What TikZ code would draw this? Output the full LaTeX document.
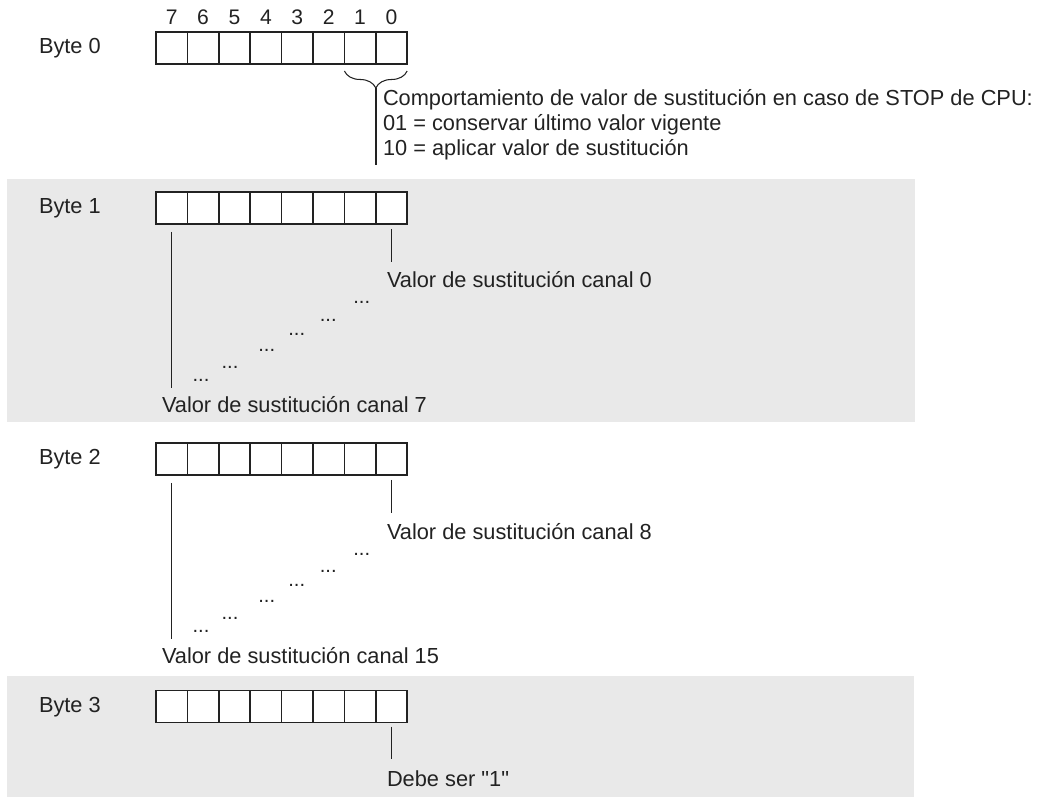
\documentclass[tikz,border=0pt]{standalone}
\usepackage{fontspec}
\setmainfont{Liberation Sans}
\newfontfamily\plainquotes{Liberation Sans}
\usetikzlibrary{positioning, decorations.pathreplacing}

\definecolor{bandgray}{HTML}{E9E9E9}
\definecolor{inkgray}{HTML}{222222}

\begin{document}
\begin{tikzpicture}[
    x=0.02cm, y=-0.02cm,
    every node/.style={inner sep=0pt, outer sep=0pt, text=inkgray},
    txt/.style={font=\fontsize{12.4}{14.4}\selectfont, anchor=base west},
    bitnum/.style={font=\fontsize{12}{14}\selectfont, anchor=base},
    dotsnode/.style={font=\fontsize{11.5}{13}\selectfont, anchor=base},
    cell/.style={draw=inkgray, line width=0.8pt, fill=white,
      minimum width=0.628cm, minimum height=0.64cm},
    lead/.style={draw=inkgray, line width=0.6pt}
  ]
  \useasboundingbox (0,0) rectangle (1045,797);
  % grey bands behind byte 1 and byte 3
  \fill[bandgray] (7,179) rectangle (915,422);
  \fill[bandgray] (7,676) rectangle (914,797);

  % the four bytes, bit 7 on the left
  \foreach \row/\yc in {0/48, 1/208, 2/459, 3/706.5} {
    \node[txt] (byte\row) at (39,\yc+5.5) {Byte \row};
    \foreach \bit in {0,...,7}
      \node[cell] (c\row\bit) at ({171.7+31.4*(7-\bit)},\yc) {};
  }
  \foreach \bit in {0,...,7}
    \node[bitnum] (num\bit) at ({171.7+31.4*(7-\bit)},25) {\bit};

  % byte 0: bits 1 and 0
  \draw[lead, decorate, decoration={brace, mirror, amplitude=0.34cm}]
    ([yshift=-0.14cm]c01.south west) -- ([yshift=-0.14cm]c00.south east);
  \coordinate (bracetip) at (376,88);
  \coordinate (noteend) at (376,165);
  \draw[lead] (bracetip) -- (noteend);
  \node[txt] (note1) at (383,106) {Comportamiento de valor de sustitución en caso de STOP de CPU:};
  \node[txt] (note2) at (383,131) {01 = conservar último valor vigente};
  \node[txt] (note3) at (383,156) {10 = aplicar valor de sustitución};

  % bytes 1 and 2: one bit per channel
  \foreach \row/\yc/\first/\last in {1/208/0/7, 2/459/8/15} {
    \node[txt] (first\row) at (387,\yc+80) {Valor de sustitución canal \first};
    \node[txt] (last\row) at (162,\yc+204) {Valor de sustitución canal \last};
    \draw[lead, shorten <=0.1cm, shorten >=0.2cm] (c\row0.south) -- (c\row0.south |- first\row.north);
    \draw[lead, shorten <=0.16cm, shorten >=0.16cm] (c\row7.south) -- (c\row7.south |- last\row.north);
    \foreach \dx/\dy [count=\k] in {361.7/96, 328.3/113.5, 296.7/127.5, 266.7/143.5, 230/160, 201/173.5}
      \node[dotsnode] (dots\row\k) at (\dx,\yc+\dy) {...};
  }

  % byte 3
  \node[txt] (mustbe) at (387,786.5) {Debe ser {\plainquotes "1"}};
  \draw[lead, shorten <=0.08cm, shorten >=0.24cm] (c30.south) -- (c30.south |- mustbe.north);
\end{tikzpicture}
\end{document}
